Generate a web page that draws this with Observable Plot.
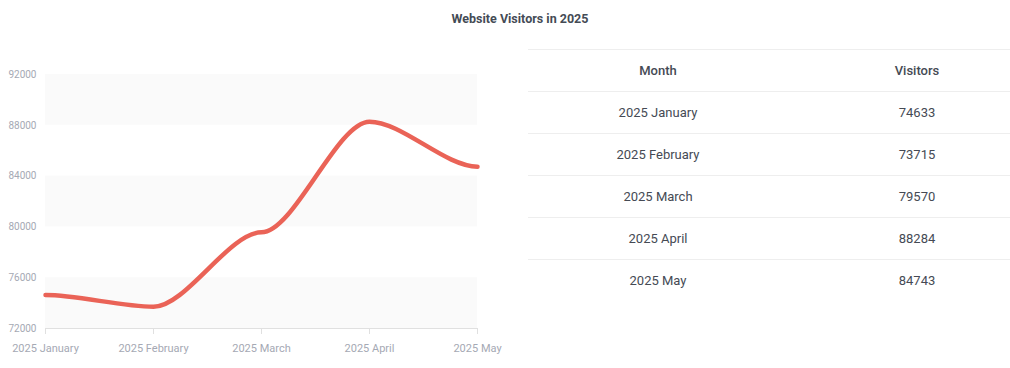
<!DOCTYPE html>
<html><head><meta charset="utf-8">
<script src="https://cdn.jsdelivr.net/npm/d3@7"></script>
<script src="https://cdn.jsdelivr.net/npm/@observablehq/plot@0.6"></script>
<style>
html,body{margin:0;padding:0;background:#fff;overflow:hidden;width:1010px;height:368px;font-family:Roboto,sans-serif}
#title{position:absolute;left:0;top:11px;width:1040px;text-align:center;font-size:12.5px;font-weight:bold;color:#444b55}
#chart{position:absolute;left:0;top:60px}
#tbl{position:absolute;left:528px;top:49px;width:518px;border-collapse:collapse;font-size:13px;color:#454a54}
#tbl td,#tbl th{height:41px;padding:0;text-align:center;border-top:1px solid #eeeeee}
#tbl th{font-weight:500}
</style>
</head><body>
<div id="title">Website Visitors in 2025</div>
<div id="chart"></div>
<table id="tbl"><colgroup><col style="width:260px"><col style="width:258px"></colgroup><thead></thead><tbody></tbody></table>
<script>
const months = ["2025 January","2025 February","2025 March","2025 April","2025 May"];
const visitors = [74633,73715,79570,88284,84743];
const yTicks = [72000,76000,80000,84000,88000,92000];
const bandStarts = [72000,80000,88000];
const bandSize = 4000;
const headers = ["Month","Visitors"];

const data = months.map((m,i)=>({month:m, visitors:visitors[i]}));

// smooth curve with horizontal tangents at each point (control handles at 30% of the gap)
function smoothH(context) {
  const k = 0.3;
  return {
    _line: NaN, _point: 0, _x0: 0, _y0: 0,
    areaStart() { this._line = 0; },
    areaEnd() { this._line = NaN; },
    lineStart() { this._point = 0; },
    lineEnd() {
      if (this._line || (this._line !== 0 && this._point === 1)) context.closePath();
      this._line = 1 - this._line;
    },
    point(x, y) {
      x = +x; y = +y;
      if (this._point === 0) {
        this._point = 1;
        if (this._line) context.lineTo(x, y); else context.moveTo(x, y);
      } else {
        this._point = 2;
        const dx = x - this._x0;
        context.bezierCurveTo(this._x0 + k * dx, this._y0, x - k * dx, y, x, y);
      }
      this._x0 = x; this._y0 = y;
    }
  };
}

const chart = Plot.plot({
  width:510, height:300,
  marginLeft:45, marginRight:33, marginTop:14, marginBottom:32,
  style:{fontFamily:"Roboto, sans-serif", background:"transparent", overflow:"visible"},
  x:{type:"point", domain:months, padding:0, label:null},
  y:{domain:[72000,92000], label:null},
  marks:[
    Plot.rect(bandStarts, {x1:()=>months[0], x2:()=>months[months.length-1], y1:d=>d, y2:d=>d+bandSize, fill:"#fafafa"}),
    Plot.ruleY([72000], {stroke:"#e0e0e0"}),
    Plot.axisY({ticks:yTicks, tickSize:0, tickPadding:9, fontSize:10, fill:"#a5a9b4", tickFormat:d=>String(d), label:null}),
    Plot.axisX({tickSize:6, tickPadding:10, fontSize:11, stroke:"#e0e0e0", fill:"#a5a9b4", label:null}),
    Plot.line(data, {x:"month", y:"visitors", curve:smoothH, stroke:"#ea6357", strokeWidth:4.5})
  ]
});
document.getElementById("chart").appendChild(chart);

const thead = d3.select("#tbl thead").append("tr");
headers.forEach(h=>thead.append("th").text(h));
const tb = d3.select("#tbl tbody");
months.forEach((m,i)=>{
  const tr = tb.append("tr");
  tr.append("td").text(m);
  tr.append("td").text(visitors[i]);
});
</script>
</body></html>
